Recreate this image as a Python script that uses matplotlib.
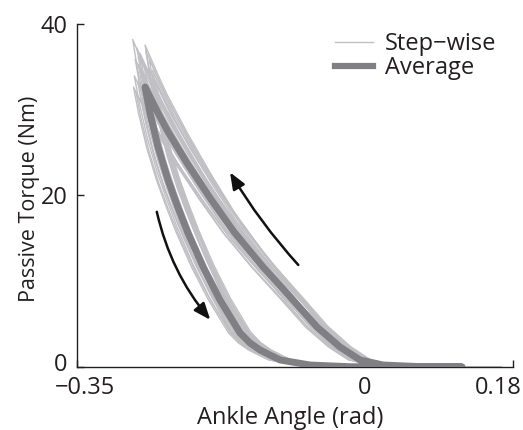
import matplotlib
matplotlib.use("Agg")
import matplotlib.pyplot as plt
from matplotlib.lines import Line2D
from matplotlib.transforms import ScaledTranslation

# Average hysteresis loop (angle in rad, torque in Nm)
avg_angle = [0.118, 0.067, 0.0220, -0.0060, -0.0303, -0.0582, -0.0874, -0.1239,
             -0.1591, -0.1883, -0.2163, -0.2406, -0.2515, -0.2673,
             -0.2613, -0.2515, -0.2394, -0.2284, -0.2151, -0.1968, -0.1762,
             -0.1518, -0.1397, -0.1275, -0.1032, -0.0668, -0.0181, 0.043, 0.118]
avg_torque = [0.0, 0.04, 0.23, 0.82, 2.33, 4.66, 7.81, 11.66,
              15.74, 19.71, 23.79, 27.64, 29.62, 32.65,
              29.62, 25.66, 21.81, 18.89, 15.63, 11.66, 7.81,
              3.97, 2.80, 1.98, 0.82, 0.23, 0.03, 0.0, 0.0]

# Step-wise traces: per-trace angle offset, torque factor and end angle (estimated)
trace_dx = [-0.015, -0.012, -0.010, -0.013, -0.008, -0.006, -0.011, -0.004,
            -0.009, -0.002, -0.005, 0.000, -0.007, 0.002, -0.003, 0.004,
            -0.001, 0.006, 0.001, 0.008, 0.003, 0.010, 0.005, 0.012,
            0.007, 0.009, -0.014, 0.011, 0.013, 0.000]
trace_scale = [1.17, 1.10, 1.14, 1.04, 1.08, 1.12, 0.98, 1.06,
               1.02, 1.09, 0.96, 1.05, 1.11, 1.00, 0.94, 1.07,
               1.03, 0.97, 1.13, 1.01, 0.95, 1.04, 1.10, 0.99,
               0.93, 1.06, 1.00, 0.96, 1.02, 1.15]
trace_end = [0.150, 0.160, 0.165, 0.140, 0.155, 0.162, 0.130, 0.158,
             0.145, 0.166, 0.150, 0.160, 0.140, 0.163, 0.152, 0.135,
             0.160, 0.148, 0.157, 0.165, 0.142, 0.150, 0.138, 0.161,
             0.155, 0.147, 0.159, 0.143, 0.164, 0.153]

xticks = [-0.35, 0, 0.18]
xticklabels = ["\u22120.35", "0", "0.18"]
yticks = [0, 20, 40]
yticklabels = ["0", "20", "40"]

plt.rcParams['font.family'] = ['Open Sans', 'DejaVu Sans']
TXT = '#231f20'

W, H = 523, 430
fig = plt.figure(figsize=(W / 100, H / 100), dpi=100)
ax = fig.add_axes([77 / W, 1 - 367 / H, (513 - 77) / W, (367 - 24) / H])

step_color = '#c0c0c4'
avg_color = '#808084'

for dx, s, e in zip(trace_dx, trace_scale, trace_end):
    xs = [a + dx for a in avg_angle[:-1]] + [e]
    ys = [t * s for t in avg_torque]
    ax.plot(xs, ys, color=step_color, lw=1.0, solid_joinstyle='round', zorder=2)

ax.plot(avg_angle, avg_torque, color=avg_color, lw=5, solid_capstyle='round',
        solid_joinstyle='round', zorder=3)

# arrows
ax.annotate('', xy=(-0.164, 22.7), xytext=(-0.081, 11.9),
            arrowprops=dict(arrowstyle='-|>,head_length=1.0,head_width=0.4',
                            color='#111111', lw=1.8, shrinkA=0, shrinkB=0,
                            connectionstyle='arc3,rad=-0.05'), zorder=4)
ax.annotate('', xy=(-0.188, 5.5), xytext=(-0.253, 18.1),
            arrowprops=dict(arrowstyle='-|>,head_length=1.0,head_width=0.4',
                            color='#111111', lw=1.8, shrinkA=0, shrinkB=0,
                            connectionstyle='arc3,rad=0.12'), zorder=4)

ax.set_xlim(-0.35, 0.18)
ax.set_ylim(0, 40)
ax.set_xticks(xticks)
ax.set_xticklabels(xticklabels)
ax.set_yticks(yticks)
ax.set_yticklabels(yticklabels)
ax.tick_params(axis='both', direction='in', length=5, width=1, labelsize=17,
               colors=TXT)
ax.tick_params(axis='x', pad=6)
ax.tick_params(axis='y', pad=7)
for sp in ['top', 'right']:
    ax.spines[sp].set_visible(False)
for sp in ['left', 'bottom']:
    ax.spines[sp].set_color(TXT)
    ax.spines[sp].set_linewidth(1)

fig.canvas.draw()
xl = ax.get_xticklabels()
xl[0].set_transform(xl[0].get_transform() + ScaledTranslation(8 / 100, -1 / 100, fig.dpi_scale_trans))
xl[1].set_transform(xl[1].get_transform() + ScaledTranslation(0, -1 / 100, fig.dpi_scale_trans))
xl[-1].set_transform(xl[-1].get_transform() + ScaledTranslation(-15 / 100, -1 / 100, fig.dpi_scale_trans))
yl = ax.get_yticklabels()
yl[0].set_transform(yl[0].get_transform() + ScaledTranslation(0, 5 / 100, fig.dpi_scale_trans))

ax.set_xlabel('Ankle Angle (rad)', fontsize=17, color=TXT)
ax.xaxis.set_label_coords(0.488, -(418 - 367) / 343, transform=ax.transAxes)
ax.xaxis.label.set_va('center')
ax.set_ylabel('Passive Torque (Nm)', fontsize=15.5, color=TXT)
ax.yaxis.set_label_coords(-(77 - 30) / 436, 0.49, transform=ax.transAxes)
ax.yaxis.label.set_va('center')

handles = [Line2D([0], [0], color=step_color, lw=1.0),
           Line2D([0], [0], color=avg_color, lw=4.5)]
ax.legend(handles, ['Step\u2212wise', 'Average'], loc='upper left',
          bbox_to_anchor=(335 / W, 1 - 32 / H), bbox_transform=fig.transFigure,
          frameon=False, fontsize=17, borderpad=0, borderaxespad=0,
          handlelength=1.6, handletextpad=0.5, labelspacing=0.0,
          labelcolor=TXT)

fig.savefig('out.png', dpi=100)
